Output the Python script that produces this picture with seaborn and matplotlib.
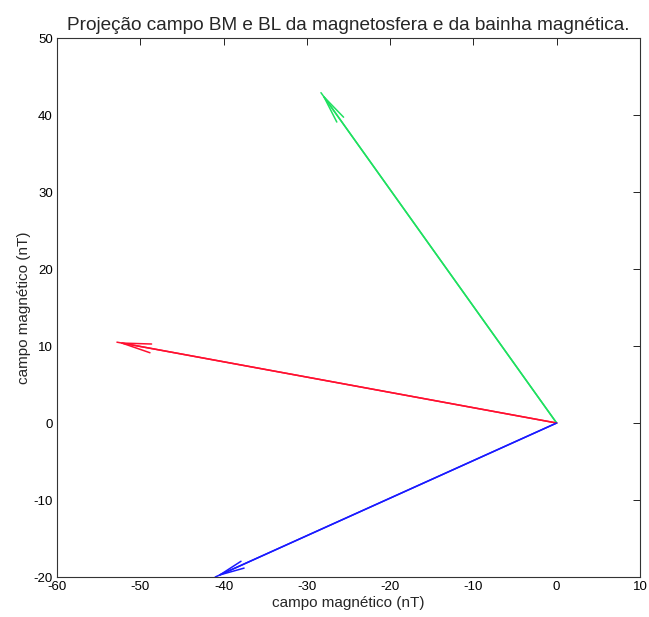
import numpy as np
import pandas as pd
import matplotlib
matplotlib.use("Agg")
import matplotlib.pyplot as plt
import seaborn as sns

# Field projection vectors (nT), all drawn from the origin
names = ["BM bainha", "BL magnetosfera", "BL bainha"]
bx = [-28.3, -52.8, -41.0]
by = [42.9, 10.5, -20.0]
colors = ["#1fe060", "#ff1030", "#1a1aff"]

xticks = [-60, -50, -40, -30, -20, -10, 0, 10]
yticks = [-20, -10, 0, 10, 20, 30, 40, 50]

sns.set_style("white")
plt.rcParams["font.family"] = ["Liberation Sans", "DejaVu Sans"]
plt.rcParams["axes.unicode_minus"] = False

fig = plt.figure(figsize=(6.49, 6.17), dpi=100)
ax = fig.add_axes([0.0878, 0.0648, 0.8982, 0.8736])

# Shafts as line segments from origin to each tip
rows = []
for n, x, y in zip(names, bx, by):
    rows.append({"vetor": n, "x": 0.0, "y": 0.0})
    rows.append({"vetor": n, "x": x, "y": y})
df = pd.DataFrame(rows)
sns.lineplot(data=df, x="x", y="y", hue="vetor", units="vetor", estimator=None,
             sort=False, palette=dict(zip(names, colors)), legend=False,
             linewidth=1.1, ax=ax)

# Open arrowheads (two barbs) at each tip, sized with the vector length
for x, y, c in zip(bx, by, colors):
    length = np.hypot(x, y)
    hl = 0.068 * length * 8.0 / 1.389 / 10.0
    ax.annotate("", xy=(x, y), xytext=(0, 0),
                arrowprops=dict(arrowstyle=f"->,head_length={hl:.2f},head_width={hl*0.15:.2f}",
                                color=c, lw=1.1, shrinkA=0, shrinkB=0,
                                mutation_scale=10))

ax.set_xlim(-60, 10)
ax.set_ylim(-20, 50)
ax.set_xticks(xticks)
ax.set_yticks(yticks)
ax.tick_params(direction="in", length=5, width=0.6, top=True, right=True,
               labelsize=9.5, colors="black", pad=3)
for s in ax.spines.values():
    s.set_visible(True)
    s.set_color("#333333")
    s.set_linewidth(0.8)

ax.set_xlabel("campo magnético (nT)", fontsize=11, labelpad=2)
ax.set_ylabel("campo magnético (nT)", fontsize=11, labelpad=2)
ax.set_title("Projeção campo BM e BL da magnetosfera e da bainha magnética.",
             fontsize=13.7, pad=6)

fig.savefig("out.png", dpi=100, facecolor="white")
